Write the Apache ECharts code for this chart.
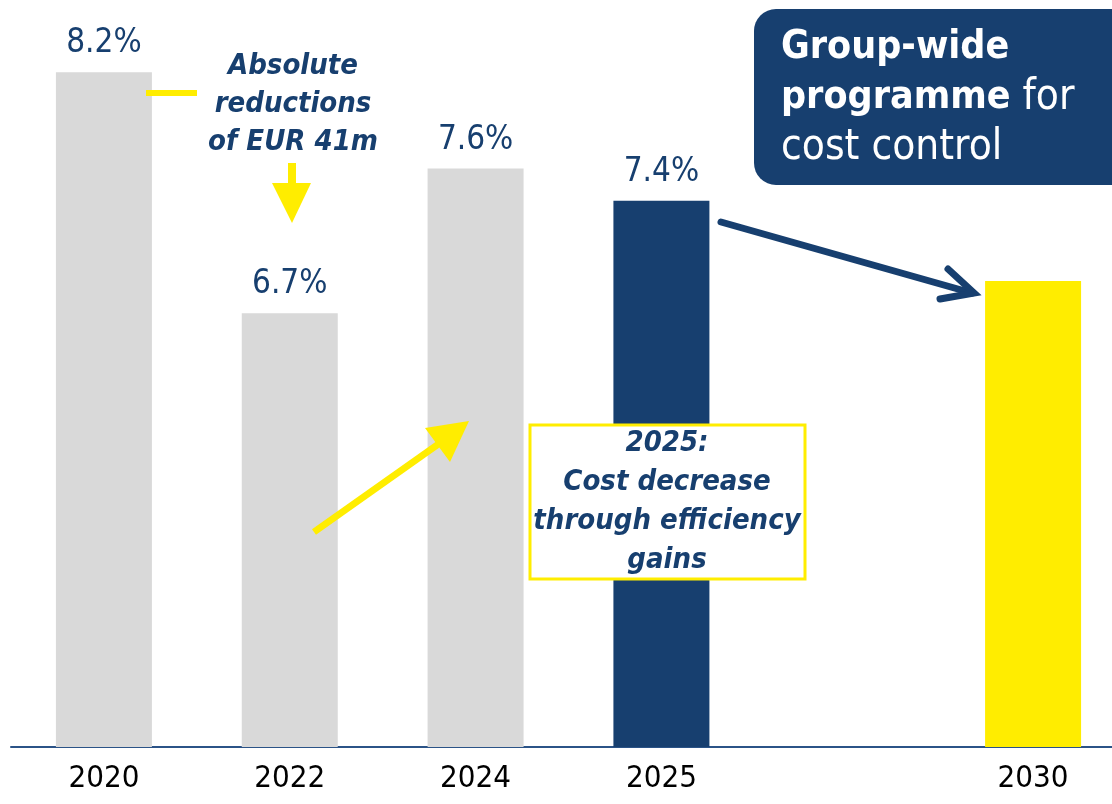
<!DOCTYPE html>
<html>
<head>
<meta charset="utf-8">
<script src="https://cdn.jsdelivr.net/npm/echarts@6/dist/echarts.min.js"></script>
<style>
html,body{margin:0;padding:0;background:#fff;overflow:hidden;width:1112px;height:804px;}
#chart{width:1126px;height:804px;}
</style>
</head>
<body>
<div id="chart"></div>
<script>
// ---- data ----
const categories = ['2020', '2022', '2024', '2025', '', '2030'];
const values = [8.2, 6.7, 7.6, 7.4, null, 6.9];
const showValueLabel = [true, true, true, true, false, false];

// ---- styles ----
const NAVY = '#173F6F';
const GRAY = '#D9D9D9';
const YELLOW = '#FFED00';
const barColors = [GRAY, GRAY, GRAY, NAVY, GRAY, YELLOW];

const chart = echarts.init(document.getElementById('chart'));

const seriesData = values.map((v, i) => ({
  value: v === null ? '-' : v,
  itemStyle: { color: barColors[i] },
  label: { show: showValueLabel[i] }
}));

const boldItalic = {
  fontFamily: "'DejaVu Sans Condensed', 'DejaVu Sans', sans-serif",
  fontWeight: 'bold',
  fontStyle: 'italic',
  fontSize: 29,
  fill: NAVY,
  align: 'center',
  verticalAlign: 'middle',
  lineHeight: 38
};

const option = {
  animation: false,
  backgroundColor: '#ffffff',
  grid: { left: 11, right: 0, top: 24, bottom: 57 },
  xAxis: {
    type: 'category',
    data: categories,
    axisLine: { lineStyle: { color: '#2B5387', width: 2 } },
    axisTick: { show: false },
    axisLabel: {
      color: '#000',
      fontSize: 31,
      fontFamily: "'Liberation Sans Narrow', 'DejaVu Sans Condensed', sans-serif",
      margin: 16
    }
  },
  yAxis: {
    type: 'value',
    min: 4,
    max: 8.5,
    show: false,
    splitLine: { show: false }
  },
  series: [{
    type: 'bar',
    data: seriesData,
    barWidth: 96,
    z: 2,
    label: {
      position: 'top',
      distance: 12,
      color: NAVY,
      fontSize: 33,
      fontFamily: "'DejaVu Sans Condensed', 'DejaVu Sans', sans-serif",
      formatter: p => p.value + '%'
    }
  }],
  graphic: [
    // yellow dash next to 2020 bar
    { type: 'rect', shape: { x: 146, y: 90, width: 51, height: 6 }, style: { fill: YELLOW }, z: 10 },
    // annotation text
    { type: 'text', x: 293, y: 104, style: Object.assign({}, boldItalic, { text: 'Absolute\nreductions\nof EUR 41m', lineHeight: 38 }), z: 10 },
    // down arrow
    { type: 'rect', shape: { x: 288, y: 163, width: 8, height: 22 }, style: { fill: YELLOW }, z: 10 },
    { type: 'polygon', shape: { points: [[272, 183], [311, 183], [292, 223]] }, style: { fill: YELLOW }, z: 10 },
    // diagonal yellow arrow
    { type: 'polyline', shape: { points: [[314, 532], [447, 438]] }, style: { stroke: YELLOW, lineWidth: 7 }, z: 10 },
    { type: 'polygon', shape: { points: [[469, 421], [425, 428], [450, 462]] }, style: { fill: YELLOW }, z: 10 },
    // yellow box with text
    { type: 'rect', shape: { x: 530, y: 425, width: 275, height: 154 }, style: { fill: '#ffffff', stroke: YELLOW, lineWidth: 3 }, z: 10 },
    { type: 'text', x: 667, y: 502, style: Object.assign({}, boldItalic, { text: '2025:\nCost decrease\nthrough efficiency\ngains', lineHeight: 39 }), z: 11 },
    // navy arrow 2025 -> 2030
    { type: 'polyline', shape: { points: [[721, 222], [972, 293]] }, style: { stroke: NAVY, lineWidth: 7, lineCap: 'round' }, z: 10 },
    { type: 'polyline', shape: { points: [[948, 269], [974, 293], [940, 299]] }, style: { stroke: NAVY, lineWidth: 7, lineCap: 'round', lineJoin: 'miter', fill: null }, z: 10 },
    // navy rounded box
    { type: 'rect', shape: { x: 754, y: 9, width: 380, height: 176, r: 22 }, style: { fill: NAVY }, z: 10 },
    {
      type: 'text', x: 781, y: 98, z: 11,
      style: {
        text: '{b|Group-wide}\n{b|programme}{n| for}\n{n|cost control}',
        verticalAlign: 'middle',
        align: 'left',
        rich: {
          b: { fontFamily: "'DejaVu Sans Condensed', 'DejaVu Sans', sans-serif", fontWeight: 'bold', fontSize: 39, fill: '#ffffff', lineHeight: 50 },
          n: { fontFamily: "'DejaVu Sans Condensed', 'DejaVu Sans', sans-serif", fontWeight: 'normal', fontSize: 42, fill: '#ffffff', lineHeight: 50 }
        }
      }
    }
  ]
};

chart.setOption(option);
</script>
</body>
</html>
